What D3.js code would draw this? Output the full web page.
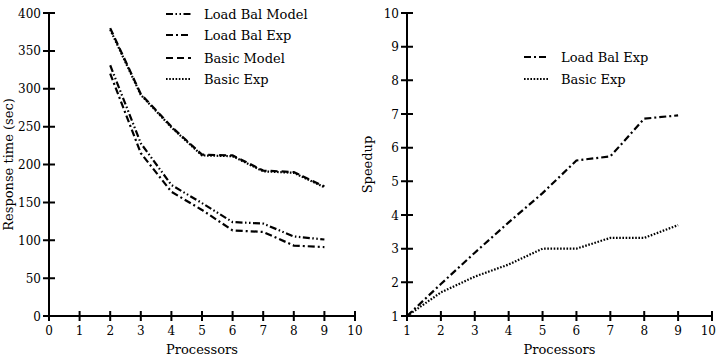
<!DOCTYPE html>
<html><head><meta charset="utf-8">
<script src="https://cdn.jsdelivr.net/npm/d3@7"></script>
<style>body{margin:0;background:#fff}svg{display:block}text{font-family:"DejaVu Serif","Liberation Serif",serif;fill:#000}</style>
</head><body>
<svg id="c" width="717" height="357"></svg>
<script>
const procs = [2,3,4,5,6,7,8,9];
const loadBalModel = [331,228,173,149,124,122,105,101];
const loadBalExp = [320,215,164,140,113,111,93,91];
const basicModel = [380,293,250,213,212,192,190,171];
const basicExp = [378,292,249,212,211,191,189,170];
const spProcs = [1,2,3,4,5,6,7,8,9];
const spLoadBalExp = [1,1.95,2.88,3.78,4.65,5.62,5.74,6.86,6.96];
const spBasicExp = [1,1.7,2.17,2.53,3.0,3.0,3.32,3.32,3.7];
const leftYTicks = [0,50,100,150,200,250,300,350,400];
const leftXTicks = [0,1,2,3,4,5,6,7,8,9,10];
const rightYTicks = [1,2,3,4,5,6,7,8,9,10];
const rightXTicks = [1,2,3,4,5,6,7,8,9,10];

const svg = d3.select("#c");
const dashes = {lbm:"7,2.5,1.5,2.5,1.5,2.5", lbe:"7,3,2,3", bm:"7,4", be:"1.6,1.6"};

function axes(g, x, y, xt, yt, ylabel, ylabelX) {
  const x0 = x.range()[0], x1 = x.range()[1], y0 = y.range()[0], y1 = y.range()[1];
  const tickPath = d3.path();
  xt.forEach(t => { tickPath.moveTo(x(t), y0 - 5); tickPath.lineTo(x(t), y0 + 5); });
  yt.forEach(t => { tickPath.moveTo(x0 - 6, y(t)); tickPath.lineTo(x0 + 6, y(t)); });
  g.append("path").attr("d", tickPath.toString()).attr("fill","none").attr("stroke","#000").attr("stroke-width",2);
  g.append("path").attr("d", `M${x0},${y1}V${y0}H${x1}`).attr("fill","none").attr("stroke","#000").attr("stroke-width",2);
  xt.forEach(t => {
    const tx = g.append("text").attr("x",x(t)).attr("y",y0+19).attr("text-anchor","middle").attr("font-size",12).text(t);
    if (x(t) > 705) tx.attr("x", 716).attr("text-anchor","end");
  });
  yt.forEach(t => {
    g.append("text").attr("x",x0-8).attr("y",y(t)+4.5).attr("text-anchor","end").attr("font-size",12).text(t);
  });
  g.append("text").attr("x",(x0+x1)/2).attr("y",y0+38).attr("text-anchor","middle").attr("font-size",13).text("Processors");
  g.append("text").attr("transform",`translate(${ylabelX},${(y0+y1)/2}) rotate(-90)`).attr("text-anchor","middle").attr("font-size",13).text(ylabel);
}

function series(g, x, y, xs, ys, dash) {
  const line = d3.line().x((d,i)=>x(xs[i])).y(d=>y(d));
  g.append("path").attr("d", line(ys)).attr("fill","none").attr("stroke","#000").attr("stroke-width",2.2).attr("stroke-dasharray",dash);
}

function legend(g, items, lx, tx, ys) {
  items.forEach((it,i) => {
    g.append("line").attr("x1",lx).attr("x2",lx+25).attr("y1",ys[i]).attr("y2",ys[i]).attr("stroke","#000").attr("stroke-width",2).attr("stroke-dasharray",it[1]);
    g.append("text").attr("x",tx).attr("y",ys[i]+4.5).attr("font-size",13).text(it[0]);
  });
}

const xL = d3.scaleLinear().domain([0,10]).range([49,355]);
const yL = d3.scaleLinear().domain([0,400]).range([316,13]);
const gL = svg.append("g");
axes(gL, xL, yL, leftXTicks, leftYTicks, "Response time (sec)", 13);
series(gL, xL, yL, procs, basicModel, dashes.bm);
series(gL, xL, yL, procs, basicExp, dashes.be);
series(gL, xL, yL, procs, loadBalModel, dashes.lbm);
series(gL, xL, yL, procs, loadBalExp, dashes.lbe);
legend(gL, [["Load Bal Model",dashes.lbm],["Load Bal Exp",dashes.lbe],["Basic Model",dashes.bm],["Basic Exp",dashes.be]], 166, 204, [14,35,58,79]);

const xR = d3.scaleLinear().domain([1,10]).range([407,712]);
const yR = d3.scaleLinear().domain([1,10]).range([316,13]);
const gR = svg.append("g");
axes(gR, xR, yR, rightXTicks, rightYTicks, "Speedup", 372);
series(gR, xR, yR, spProcs, spLoadBalExp, dashes.lbe);
series(gR, xR, yR, spProcs, spBasicExp, dashes.be);
legend(gR, [["Load Bal Exp",dashes.lbe],["Basic Exp",dashes.be]], 524, 561, [57,79]);
</script>
</body></html>
